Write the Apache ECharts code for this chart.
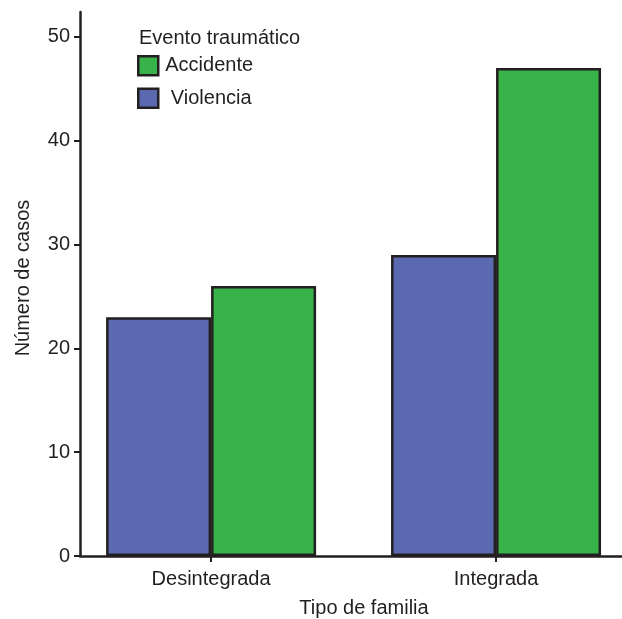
<!DOCTYPE html>
<html>
<head>
<meta charset="utf-8">
<script src="https://cdn.jsdelivr.net/npm/echarts@6/dist/echarts.min.js"></script>
<style>html,body{margin:0;padding:0;background:#fff;}#c{width:622px;height:619px;}</style>
</head>
<body>
<div id="c"></div>
<script>
const categories = ['Desintegrada', 'Integrada'];
const violencia = [23, 29];
const accidente = [26, 47];
const seriesNames = ['Accidente', 'Violencia'];
const yTicks = [0, 10, 20, 30, 40, 50];
const legendTitle = 'Evento traumático';
const xTitle = 'Tipo de familia';
const yTitle = 'Número de casos';

const FONT = 'Liberation Sans, Arial, sans-serif';
const TXT = '#231f20';
const FS = 20;
const positions = categories.map((c, i) => i + 1);

const chart = echarts.init(document.getElementById('c'), null, {renderer: 'canvas'});
chart.setOption({
  backgroundColor: '#fff',
  animation: false,
  textStyle: {fontFamily: FONT},
  title: {
    text: legendTitle, left: 134, top: 23,
    textStyle: {fontFamily: FONT, fontSize: FS, fontWeight: 'normal', color: TXT}
  },
  legend: {
    orient: 'vertical', left: 132, top: 50, itemWidth: 20, itemHeight: 19, itemGap: 11,
    icon: 'rect',
    data: seriesNames,
    formatter: name => (name === 'Violencia' ? ' ' + name : name),
    textStyle: {fontFamily: FONT, fontSize: FS, color: TXT, padding: [0, 0, 0, 2]},
    itemStyle: {borderColor: '#231f20', borderWidth: 2.5}
  },
  grid: {left: 80, right: 0, top: 12, bottom: 63, containLabel: false, outerBoundsMode: 'none'},
  xAxis: {
    type: 'value', min: 0.54, max: 2.442,
    name: xTitle, nameLocation: 'middle', nameGap: 42,
    nameTextStyle: {fontFamily: FONT, fontSize: FS, color: TXT, padding: [0, 0, 0, 26]},
    axisLine: {show: true, onZero: false, lineStyle: {color: TXT, width: 2.5}},
    axisTick: {show: true, customValues: positions, length: 6, lineStyle: {color: TXT, width: 2}},
    axisLabel: {customValues: positions, formatter: v => categories[Math.round(v) - 1] || '',
      fontFamily: FONT, fontSize: FS, color: TXT, margin: 13},
    splitLine: {show: false}
  },
  yAxis: {
    type: 'value', min: 0, max: 52.4,
    name: yTitle, nameLocation: 'middle', nameGap: 47, nameRotate: 90,
    nameTextStyle: {fontFamily: FONT, fontSize: FS, color: TXT, padding: [0, 0, 0, 12]},
    axisLine: {show: true, lineStyle: {color: TXT, width: 2.5}},
    axisTick: {show: true, customValues: yTicks, length: 6, lineStyle: {color: TXT, width: 2}},
    axisLabel: {customValues: yTicks, fontFamily: FONT, fontSize: FS, color: TXT, margin: 10},
    splitLine: {show: false}
  },
  series: [
    {
      name: 'Violencia', type: 'bar', barWidth: 105, barGap: '0%',
      data: violencia.map((v, i) => [positions[i], v]),
      itemStyle: {color: '#5a69b0', borderColor: '#231f20', borderWidth: 2.5}
    },
    {
      name: 'Accidente', type: 'bar', barWidth: 105, barGap: '0%',
      data: accidente.map((v, i) => [positions[i], v]),
      itemStyle: {color: '#37b34a', borderColor: '#231f20', borderWidth: 2.5}
    }
  ]
});
</script>
</body>
</html>
